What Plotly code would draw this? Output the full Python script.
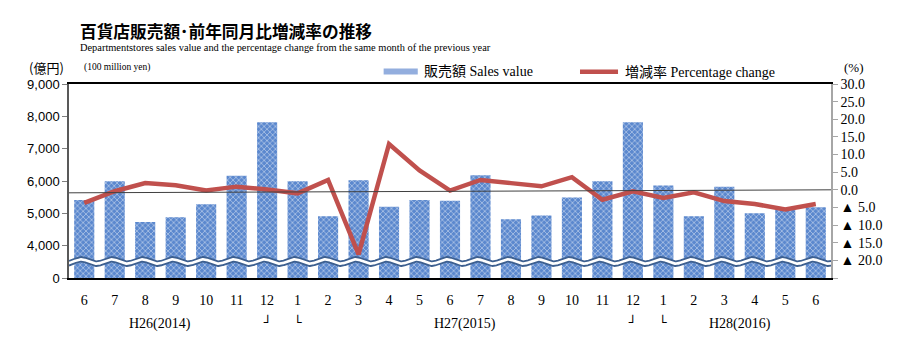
import numpy as np
import plotly.graph_objects as go

# ---------------- data ----------------
months = ["6", "7", "8", "9", "10", "11", "12", "1", "2", "3", "4", "5",
          "6", "7", "8", "9", "10", "11", "12", "1", "2", "3", "4", "5", "6"]
sales = [5410, 5990, 4730, 4880, 5280, 6160, 7815, 5990, 4910, 6020, 5200, 5410,
         5390, 6180, 4820, 4935, 5490, 5990, 7815, 5860, 4910, 5820, 5005, 5120, 5190]
pct = [-3.7, -0.4, 1.9, 1.3, -0.2, 0.9, 0.1, -1.0, 2.8, -18.3, 13.0, 5.5,
       -0.2, 2.8, 1.9, 1.0, 3.6, -2.8, -0.4, -2.3, -0.7, -3.2, -4.0, -5.6, -4.0]

era_labels = ["H26(2014)", "H27(2015)", "H28(2016)"]
era_pos = [2.5, 12.5, 21.5]
bracket_labels = ["┘", "└", "┘", "└"]
bracket_pos = [6, 7, 18, 19]

left_tickvals = [3000, 4000, 5000, 6000, 7000, 8000, 9000]
left_ticktext = ["0", "4,000", "5,000", "6,000", "7,000", "8,000", "9,000"]
right_tickvals = [-25, -20, -15, -10, -5, 0, 5, 10, 15, 20, 25, 30]
right_ticktext = ["", "▲ 20.0", "▲ 15.0", "▲ 10.0", "▲ 5.0", "0.0",
                  "5.0", "10.0", "15.0", "20.0", "25.0", "30.0"]

x = list(range(len(months)))

# ---------------- figure ----------------
fig = go.Figure()

fig.add_trace(go.Bar(
    x=x, y=sales, width=0.66,
    marker=dict(color="#5B88CE", line=dict(width=0),
                pattern=dict(shape="x", fgcolor="#F2F6FC", bgcolor="#5B88CE",
                             size=4, solidity=0.4)),
    showlegend=False, hoverinfo="skip"))

# axis-break wave (decoration)
xs = np.linspace(-0.5, len(months) - 0.5, 1500)
wave = 3510 + 68 * np.cos(2 * np.pi * (xs + 0.1))
fig.add_trace(go.Scatter(x=xs, y=wave, mode="lines",
                         line=dict(color="white", width=4.5),
                         showlegend=False, hoverinfo="skip"))
for off in (71, -71):
    fig.add_trace(go.Scatter(x=xs, y=wave + off, mode="lines",
                             line=dict(color="#3D5F8F", width=1.8),
                             showlegend=False, hoverinfo="skip"))

fig.add_trace(go.Scatter(
    x=x, y=pct, yaxis="y2", mode="lines",
    line=dict(color="#C0504D", width=4.5),
    showlegend=False, hoverinfo="skip"))

serif = "Liberation Serif, Noto Sans CJK JP"

fig.update_layout(
    width=907, height=354,
    margin=dict(l=69, r=76, t=84, b=76),
    paper_bgcolor="white", plot_bgcolor="white",
    xaxis=dict(range=[-0.5, len(months) - 0.5], tickvals=x, ticktext=months,
               showline=True, linecolor="black", linewidth=1.5, mirror=True,
               ticks="", showgrid=False, zeroline=False,
               tickfont=dict(family=serif, size=14, color="black"),
               ticklabelstandoff=8),
    yaxis=dict(range=[3000, 9000], tickvals=left_tickvals, ticktext=left_ticktext,
               showline=True, linecolor="#595959", linewidth=1.5,
               ticks="outside", ticklen=5, tickcolor="#7F7F7F",
               showgrid=False, zeroline=False,
               tickfont=dict(family="Liberation Sans", size=13, color="black")),
    yaxis2=dict(range=[-25, 30], overlaying="y", side="right",
                tickvals=right_tickvals, ticktext=right_ticktext,
                showline=True, linecolor="#A6A6A6", linewidth=1.5,
                ticks="outside", ticklen=5, tickcolor="#A6A6A6",
                showgrid=False, zeroline=False,
                tickfont=dict(family=serif, size=14, color="black")),
)

# reference line near 0 %
fig.add_shape(type="line", xref="paper", x0=0, x1=1, yref="y2", y0=-0.85, y1=0,
              line=dict(color="#404040", width=1), layer="above")

# legend (manual)
fig.add_shape(type="rect", xref="paper", yref="paper",
              x0=0.4129, x1=0.4577, y0=1.049, y1=1.0794,
              fillcolor="#93AEDE", line=dict(width=0))
fig.add_shape(type="line", xref="paper", yref="paper",
              x0=0.6706, x1=0.7205, y0=1.0634, y1=1.0634,
              line=dict(color="#C0504D", width=4.5))

ann = []
ann.append(dict(text="<b>百貨店販売額･前年同月比増減率の推移</b>", x=0.0131, y=1.272,
                font=dict(family="Noto Sans CJK JP", size=16.7, color="black")))
ann.append(dict(text="Departmentstores sales value and the percentage change from the same month of the previous year",
                x=0.0131, y=1.188, font=dict(family="Liberation Serif", size=10.4, color="black")))
ann.append(dict(text="(億円)", x=-0.0538, y=1.0825,
                font=dict(family="Noto Sans CJK JP", size=13, color="black")))
ann.append(dict(text="(100 million yen)", x=0.0184, y=1.0825,
                font=dict(family="Liberation Serif", size=9.5, color="black")))
ann.append(dict(text="販売額 Sales value", x=0.4646, y=1.0634,
                font=dict(family=serif, size=14, color="black")))
ann.append(dict(text="増減率 Percentage change", x=0.7283, y=1.0634,
                font=dict(family=serif, size=14, color="black")))
ann.append(dict(text="(%)", x=1.0157, y=1.0825,
                font=dict(family="Liberation Serif", size=13, color="black")))
for a in ann:
    a.update(xref="paper", yref="paper", xanchor="left", yanchor="middle",
             showarrow=False, borderpad=0)

for lab, pos in zip(era_labels, era_pos):
    ann.append(dict(text=lab, x=pos, xref="x", y=-0.236, yref="paper",
                    xanchor="center", yanchor="middle", showarrow=False,
                    font=dict(family="Liberation Serif", size=14, color="black")))
for lab, pos in zip(bracket_labels, bracket_pos):
    ann.append(dict(text=lab, x=pos, xref="x", y=-0.227, yref="paper",
                    xanchor="center", yanchor="middle", showarrow=False,
                    font=dict(family="DejaVu Sans Mono", size=13, color="black")))

fig.update_layout(annotations=ann)

fig.write_html("out.html")
